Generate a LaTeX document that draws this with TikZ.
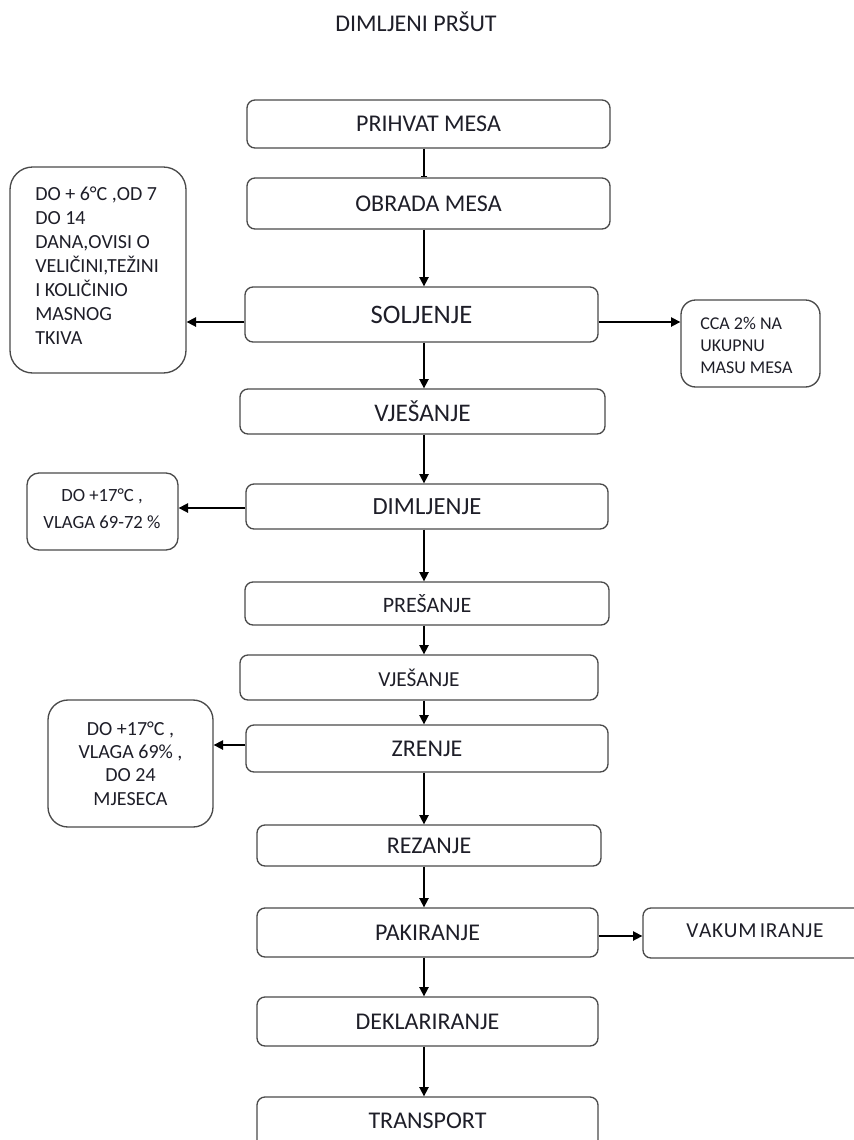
\documentclass[tikz,border=0pt]{standalone}
\usepackage{fontspec}
\setmainfont{Carlito}
\usetikzlibrary{arrows.meta}
\newcommand\fz[2]{\fontsize{#1pt}{#2pt}\selectfont}
\definecolor{bordc}{HTML}{4A4A4A}
\definecolor{txtc}{HTML}{1E1E28}
\begin{document}
\begin{tikzpicture}[x=0.75pt,y=-0.75pt,
 stepbox/.style={draw=bordc, line width=1pt, rounded corners=6pt, inner sep=0pt, text=txtc, font=\fz{18}{22}},
 notebox/.style={draw=bordc, line width=1pt, inner sep=0pt, text=txtc, align=center},
 notetext/.style={inner sep=0pt, text=txtc, align=left, anchor=west},
 arr/.style={draw=black, line width=1.2pt, -{Triangle[length=7pt,width=7pt]}},
 teearr/.style={draw=black, line width=1.2pt, -{Bar[width=5pt]}},
]
\useasboundingbox (0,0) rectangle (854,1140);
\clip (0,0) rectangle (854,1140);

\node[font=\fz{18}{22}, text=txtc, inner sep=0pt] (title) at (416,22) {DIMLJENI PRŠUT};

% main chain
\node[stepbox, minimum width=272.25pt, minimum height=36pt] (prihvat) at (428.5,124) {PRIHVAT MESA};
\node[stepbox, minimum width=272.25pt, minimum height=38.25pt] (obrada) at (428.5,203.5) {OBRADA MESA};
\node[stepbox, minimum width=264.75pt, minimum height=41.25pt, font=\fz{20}{24}] (soljenje) at (421.5,314.5) {SOLJENJE};
\node[stepbox, minimum width=273.75pt, minimum height=33.75pt, font=\fz{19}{23}] (vjesanjeA) at (422.5,411.5) {VJEŠANJE};
\node[stepbox, minimum width=271.5pt, minimum height=33.75pt, font=\fz{18.5}{22}] (dimljenje) at (427,506.5) {DIMLJENJE};
\node[stepbox, minimum width=273pt, minimum height=32.25pt, font=\fz{16.5}{20}] (presanje) at (427,603.5) {PREŠANJE};
\node[stepbox, minimum width=268.5pt, minimum height=33.75pt, font=\fz{16}{20}] (vjesanjeB) at (419,677.5) {VJEŠANJE};
\node[stepbox, minimum width=271.5pt, minimum height=35.25pt] (zrenje) at (427,748.5) {ZRENJE};
\node[stepbox, minimum width=258pt, minimum height=30.75pt] (rezanje) at (429,845.5) {REZANJE};
\node[stepbox, minimum width=255.75pt, minimum height=36.75pt] (pakiranje) at (427.5,932.5) {PAKIRANJE};
\node[stepbox, minimum width=170.25pt, minimum height=37.5pt] (vakum) at (756.5,933) {};
\node[inner sep=0pt, text=txtc, font=\fz{16}{20}] (vakumt) at (755,931) {V\kern0.5ptA\kern0.5ptK\kern0.5ptU\kern0.5ptM\kern2.5ptI\kern0.5ptR\kern0.5ptA\kern0.5ptN\kern0.5ptJ\kern0.5ptE};
\node[stepbox, minimum width=255.75pt, minimum height=36.75pt] (deklar) at (427.5,1021.5) {DEKLARIRANJE};
\node[stepbox, minimum width=255.75pt, minimum height=47.25pt] (transport) at (427.5,1128.5) {};
\node[inner sep=0pt, text=txtc, font=\fz{18}{22}] (transportt) at (427.5,1121) {TRANSPORT};

% side notes
\node[notebox, rounded corners=17pt, minimum width=132pt, minimum height=154.5pt] (noteA) at (98,270) {};
\node[notetext, font=\fz{15}{18}] (noteAt) at (35,265.5) {DO + 6°C ,OD 7\\DO 14\\DANA,OVISI O\\VELIČINI,TEŽINI\\I KOLIČINIO\\MASNOG\\TKIVA};
\node[notebox, rounded corners=11pt, minimum width=104.25pt, minimum height=65.25pt] (noteB) at (750.5,343.5) {};
\node[notetext, font=\fz{13.5}{16.5}] (noteBt) at (700,345) {CCA 2\% NA\\UKUPNU\\MASU MESA};
\node[notebox, rounded corners=9pt, minimum width=113.25pt, minimum height=57.75pt] (noteC) at (102.5,511.5) {};
\node[inner sep=0pt, text=txtc, align=center, font=\fz{14}{20}] (noteCt) at (102,508.5) {DO +17°C ,\\VLAGA 69-72 \%};
\node[notebox, rounded corners=15pt, minimum width=123.75pt, minimum height=95.25pt, font=\fz{15}{17.5}] (noteD) at (130.5,763.5) {DO +17°C ,\\VLAGA 69\% ,\\DO 24\\MJESECA};

% connectors
\coordinate (ax) at (424,0);
\draw[teearr] (prihvat.south -| ax) -- (obrada.north -| ax);
\draw[arr] (obrada.south -| ax) -- (soljenje.north -| ax);
\draw[arr] (soljenje.south -| ax) -- (vjesanjeA.north -| ax);
\draw[arr] (vjesanjeA.south -| ax) -- (dimljenje.north -| ax);
\draw[arr] (dimljenje.south -| ax) -- (presanje.north -| ax);
\draw[arr] (presanje.south -| ax) -- (vjesanjeB.north -| ax);
\draw[arr] (vjesanjeB.south -| ax) -- (zrenje.north -| ax);
\draw[arr] (zrenje.south -| ax) -- (rezanje.north -| ax);
\draw[arr] (rezanje.south -| ax) -- (pakiranje.north -| ax);
\draw[arr] (pakiranje.south -| ax) -- (deklar.north -| ax);
\draw[arr] (deklar.south -| ax) -- (transport.north -| ax);

\coordinate (h1) at (0,322);
\draw[arr] (soljenje.west |- h1) -- (noteA.east |- h1);
\draw[arr] (soljenje.east |- h1) -- (noteB.west |- h1);
\coordinate (h2) at (0,508);
\draw[arr] (dimljenje.west |- h2) -- (noteC.east |- h2);
\coordinate (h3) at (0,745);
\draw[arr] (zrenje.west |- h3) -- (noteD.east |- h3);
\coordinate (h4) at (0,936);
\draw[arr] (pakiranje.east |- h4) -- (vakum.west |- h4);
\end{tikzpicture}
\end{document}
